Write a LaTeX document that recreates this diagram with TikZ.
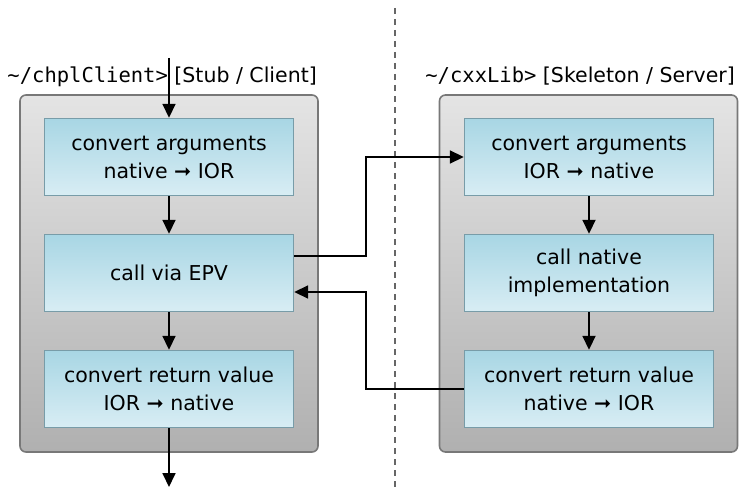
\documentclass[tikz,border=0pt]{standalone}
\usepackage{fontspec}
\setmainfont{DejaVu Sans}
\setmonofont{DejaVu Sans Mono}
\usetikzlibrary{arrows.meta}
\definecolor{innertop}{RGB}{168,214,228}
\definecolor{innerbot}{RGB}{216,237,244}
\definecolor{innerline}{RGB}{120,156,168}
\definecolor{outertop}{RGB}{228,228,228}
\definecolor{outerbot}{RGB}{176,176,176}
\definecolor{outerline}{RGB}{120,120,120}
\tikzset{
  outerbox/.style={draw=outerline, line width=1.6pt, rounded corners=6pt,
    top color=outertop, bottom color=outerbot, minimum width=298pt,
    minimum height=357pt, inner sep=0pt},
  stepbox/.style={draw=innerline, line width=1.4pt, top color=innertop,
    bottom color=innerbot, minimum width=249pt, minimum height=77pt,
    inner sep=0pt, align=center, font=\fontsize{20.5}{28}\selectfont},
  conn/.style={line width=1.8pt, -{Triangle[length=14pt,width=13pt]}},
  lbl/.style={inner sep=0pt, font=\fontsize{20.5}{24}\selectfont},
  sep/.style={draw=black!60, line width=1.4pt, dash pattern=on 6pt off 5pt}
}
\begin{document}
\begin{tikzpicture}[x=1pt,y=-1pt]
\useasboundingbox (0,0) rectangle (739,487);
% separator
\coordinate (st) at (395,8);
\coordinate (sb) at (395,487);
\draw[sep] (st) -- (sb);
% outer containers
\node[outerbox] (L) at (169,273.5) {};
\node[outerbox] (R) at (588.5,273.5) {};
% labels
\node[lbl, anchor=base east] (llab) at (317,82) {\texttt{\textasciitilde/chplClient>} [Stub / Client]};
\node[lbl, anchor=base east] (rlab) at (735,83) {\texttt{\textasciitilde/cxxLib>} [Skeleton / Server]};
% left steps
\node[stepbox] (l1) at (169,157) {convert arguments\\native ➞ IOR};
\node[stepbox] (l2) at (169,273) {call via EPV};
\node[stepbox] (l3) at (169,389) {convert return value\\IOR ➞ native};
% right steps
\node[stepbox] (r1) at (589,157) {convert arguments\\IOR ➞ native};
\node[stepbox] (r2) at (589,273) {call native\\implementation};
\node[stepbox] (r3) at (589,389) {convert return value\\native ➞ IOR};
% connectors
\coordinate (ltop) at (169,58);
\coordinate (lbot) at (169,487);
\draw[conn] (ltop) -- (l1.north);
\draw[conn] (l1) -- (l2);
\draw[conn] (l2) -- (l3);
\draw[conn] (l3) -- (lbot);
\draw[conn] (r1) -- (r2);
\draw[conn] (r2) -- (r3);
\coordinate (fb) at (366,256);
\coordinate (rb) at (366,389);
\draw[conn] ([yshift=17pt]l2.east) -- (fb) |- (r1.west);
\draw[conn] (r3.west) -- (rb) |- ([yshift=-19pt]l2.east);
\end{tikzpicture}
\end{document}
